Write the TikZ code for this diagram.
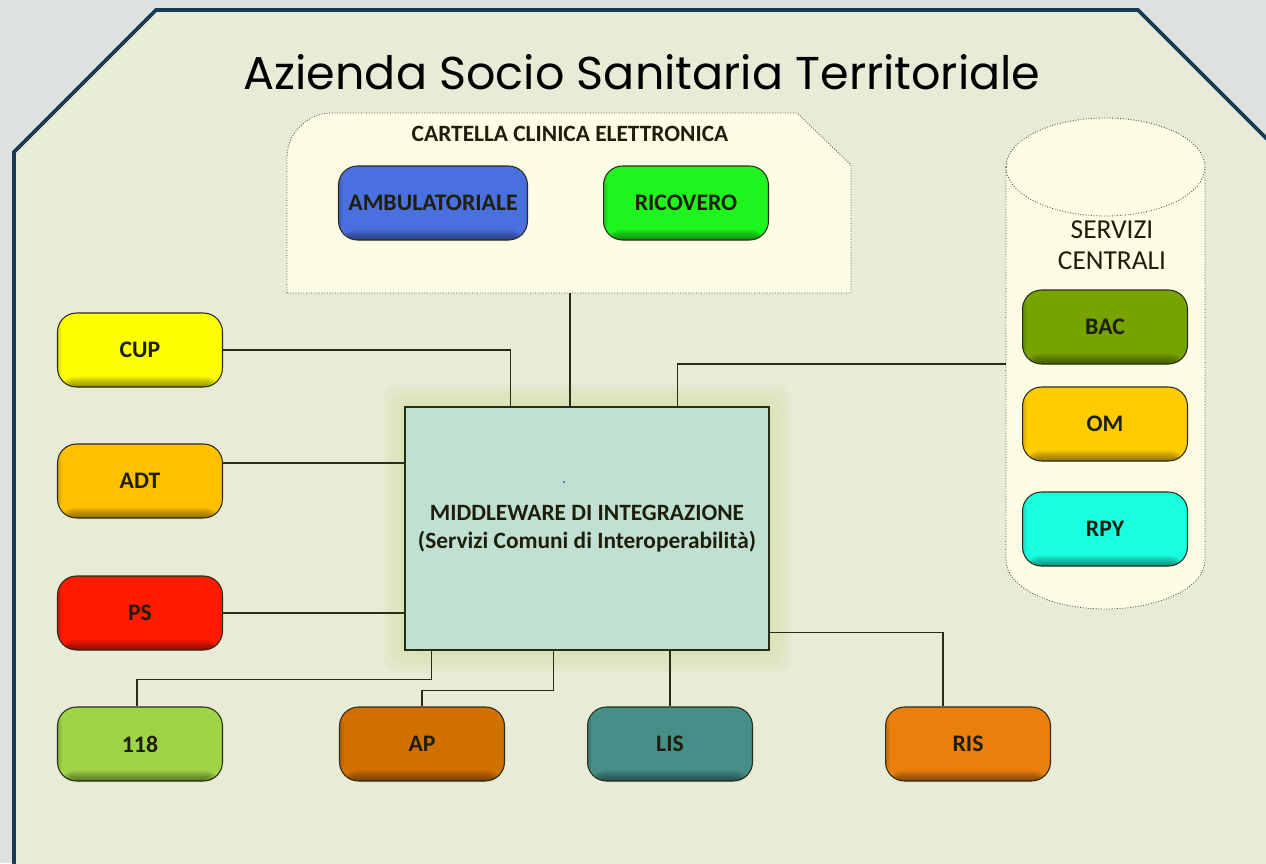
\documentclass[tikz,border=0pt]{standalone}
\usepackage{fontspec}
\setmainfont{Carlito}
\newfontfamily\titlefont{Poppins}
\definecolor{outbg}{HTML}{DDE2DF}
\definecolor{inbg}{HTML}{E8EBD6}
\definecolor{framec}{HTML}{173A55}
\definecolor{cream}{HTML}{FDFDE6}
\definecolor{edge}{HTML}{2B2B1A}
\definecolor{ink}{HTML}{1E1E0A}
\definecolor{ambc}{HTML}{4A70E0}
\definecolor{ricc}{HTML}{1EF51E}
\definecolor{cupc}{HTML}{FFFF00}
\definecolor{adtc}{HTML}{FFC000}
\definecolor{psc}{HTML}{FF1A00}
\definecolor{emc}{HTML}{9FD447}
\definecolor{apc}{HTML}{D07000}
\definecolor{lisc}{HTML}{468E88}
\definecolor{risc}{HTML}{EB7F0C}
\definecolor{bacc}{HTML}{76A300}
\definecolor{omc}{HTML}{FFCC00}
\definecolor{rpyc}{HTML}{1AFFE0}
\definecolor{mwc}{HTML}{C0E1D2}
\definecolor{glowc}{HTML}{CFE09A}
\begin{document}
\begin{tikzpicture}[x=0.02cm, y=-0.02cm,
  sysbox/.style={shape=rectangle, rounded corners=0.38cm, draw=edge, line width=0.6pt, fill=#1, minimum width=3.3cm, minimum height=1.48cm, text=ink, font=\bfseries\fontsize{13.5}{16}\selectfont,
    path picture={\foreach \k in {1,...,6} \fill[black, opacity=0.08] ([yshift=0.035cm*\k]path picture bounding box.south west) rectangle (path picture bounding box.south east);
      \foreach \k in {1,2,3} \fill[black, opacity=0.05] (path picture bounding box.south west) rectangle ([xshift=0.03cm*\k]path picture bounding box.north west);}},
  cont/.style={draw=black!70, densely dotted, line width=0.5pt, fill=cream},
  link/.style={draw=edge, line width=0.6pt}]

\useasboundingbox (0,0) rectangle (1266,863);
\clip (0,0) rectangle (1266,863);
\fill[outbg] (0,0) rectangle (1266,863);
\fill[inbg] (14,880) -- (14,152) -- (156,10) -- (1138,10) -- (1300,172) -- (1300,880) -- cycle;
\draw[framec, line width=2.2pt] (14,880) -- (14,152) -- (156,10) -- (1138,10) -- (1300,172);

\node[font=\titlefont\fontsize{26.2}{30}\selectfont, text=black, anchor=base] (title) at (642,89) {Azienda Socio Sanitaria Territoriale};

\draw[cont] (287,293) [rounded corners=0.9cm] -- (287,113) [sharp corners] -- (797,113) -- (851,165) -- (851,293) -- cycle;
\node[text=ink, font=\bfseries\fontsize{13.3}{15}\selectfont] (cce) at (570,134) {CARTELLA CLINICA ELETTRONICA};
\coordinate (ccefoot) at (570,293);

\draw[cont] (1006,167) -- (1006,560) arc (180:360:1.99cm and 0.98cm) -- (1205,167) arc (0:180:1.99cm and 0.98cm);
\draw[cont, fill=none] (1006,167) arc (180:360:1.99cm and 0.98cm);
\node[text=ink, align=center, font=\fontsize{15.6}{17.5}\selectfont] (sc) at (1112,245) {SERVIZI\\CENTRALI};
\coordinate (scside) at (1006,364);

\foreach \g in {22,18,...,2}
  \fill[glowc, opacity=0.13, rounded corners=0.3cm] ({405-\g},{407-\g}) rectangle ({769+\g},{650+\g});
\node[shape=rectangle, draw=edge, line width=0.8pt, fill=mwc, minimum width=7.28cm, minimum height=4.86cm, align=center, text=ink, font=\bfseries\fontsize{13.3}{16.2}\selectfont] (mw) at (587,528.5) {MIDDLEWARE DI INTEGRAZIONE\\(Servizi Comuni di Interoperabilità)};
\fill[blue] (564,482) circle (0.5pt);

\node[sysbox=ambc, minimum width=3.78cm] (amb) at (433,203) {AMBULATORIALE};
\node[sysbox=ricc] (ric) at (686,203) {RICOVERO};
\node[sysbox=cupc] (cup) at (140,350) {CUP};
\node[sysbox=adtc] (adt) at (140,481) {ADT};
\node[sysbox=psc] (ps) at (140,613) {PS};
\node[sysbox=emc] (n118) at (140,744) {118};
\node[sysbox=apc] (ap) at (422,744) {AP};
\node[sysbox=lisc] (lis) at (670,744) {LIS};
\node[sysbox=risc] (ris) at (968,744) {RIS};
\node[sysbox=bacc] (bac) at (1105,327) {BAC};
\node[sysbox=omc] (om) at (1105,424) {OM};
\node[sysbox=rpyc] (rpy) at (1105,529) {RPY};

\draw[link] (cup.east) -| ([xshift=2.12cm]mw.north west);
\draw[link] (ccefoot) -- (ccefoot |- mw.north);
\draw[link] (scside) -| ([xshift=5.46cm]mw.north west);
\draw[link] ([yshift=0.36cm]adt.east) -- ([yshift=0.36cm]adt.east -| mw.west);
\draw[link] (ps.east) -- (ps.east -| mw.west);
\draw[link] ([xshift=0.54cm]mw.south west) -- ++(0,-0.58cm) -| ([xshift=-0.06cm]n118.north);
\draw[link] ([xshift=2.98cm]mw.south west) -- ++(0,-0.8cm) -| (ap.north);
\draw[link] (lis.north) -- (lis.north |- mw.south);
\draw[link] ([yshift=0.36cm]mw.south east) -| ([xshift=-0.5cm]ris.north);
\end{tikzpicture}
\end{document}
